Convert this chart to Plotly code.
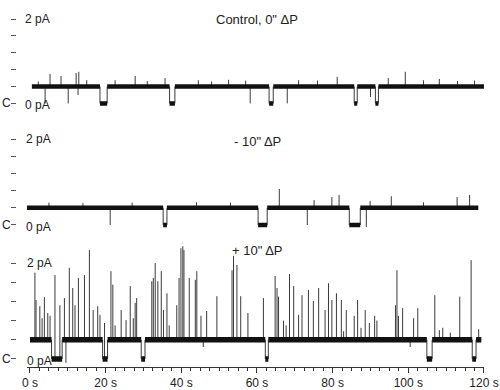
import plotly.graph_objects as go

# ---------------- data (time in s, current in pA) ----------------
BASE = 0.4          # one-channel open level the traces sit on
CLOSED = 0.0        # "C" level

# Panel 1 : Control, 0" dP
C_SPAN = [0.5, 120.0]
C_CL_START = [18.5, 36.9, 63.2, 85.7, 91.3]
C_CL_END = [20.4, 38.3, 64.3, 86.5, 92.1]
C_UP_T = [2.2, 5.3, 8.2, 12.2, 12.9, 15.0, 22.5, 27.8, 31.0, 35.7, 44.5, 48.0,
          52.5, 57.0, 71.0, 76.0, 81.2, 94.7, 99.2, 104.0, 108.2, 113.0, 117.5]
C_UP_H = [0.52, 0.70, 0.65, 0.72, 0.75, 0.55, 0.55, 0.65, 0.53, 0.60, 0.55, 0.52,
          0.56, 0.54, 0.55, 0.54, 0.63, 0.60, 0.75, 0.55, 0.58, 0.53, 0.54]
C_DN_T = [4.0, 10.1, 12.7, 58.2, 68.0, 90.0]
C_DN_H = [0.0, 0.0, 0.2, 0.0, 0.0, 0.15]

# Panel 2 : - 10" dP
M_SPAN = [-0.8, 118.5]
M_CL_START = [35.2, 60.3, 84.4]
M_CL_END = [36.2, 62.7, 87.3]
M_UP_T = [5.0, 14.0, 27.0, 44.0, 53.0, 65.9, 75.1, 79.8, 81.7, 89.9, 95.5,
          104.0, 112.9, 116.2]
M_UP_H = [0.52, 0.51, 0.52, 0.53, 0.52, 0.84, 0.58, 0.65, 0.70, 0.56, 0.67,
          0.53, 0.65, 0.70]
M_DN_T = [21.2, 73.3, 88.9]
M_DN_H = [0.0, 0.0, -0.05]

# Panel 3 : + 10" dP
P_SPAN = [0.0, 119.3]
P_CL_START = [5.7, 19.2, 29.4, 62.2, 104.9, 116.9]
P_CL_END = [8.5, 20.5, 30.4, 63.0, 106.3, 117.9]
P_UP_T = [1.3, 1.6, 2.6, 3.2, 3.8, 4.7, 5.3, 6.6, 7.9, 9.1, 10.4, 11.3, 11.9,
          12.8, 14.4, 15.7, 16.7, 17.9, 18.5, 19.7, 21.4, 21.9, 22.5, 24.1,
          25.4, 26.5, 27.3, 27.8, 28.2, 32.2, 32.6, 33.1, 33.8, 34.7, 35.3,
          36.2, 36.8, 38.8, 39.4, 39.9, 40.4, 40.7, 42.1, 43.7, 44.1, 45.2,
          46.7, 49.4, 53.4, 53.8, 54.7, 55.7, 57.6, 61.7, 64.8, 65.3, 65.7,
          67.0, 67.7, 68.6, 69.7, 71.0, 71.9, 73.6, 74.9, 76.3, 78.0, 78.9,
          79.8, 81.0, 82.3, 82.9, 83.6, 85.7, 86.6, 87.5, 88.6, 89.7, 91.1,
          91.7, 96.6, 97.0, 97.4, 98.5, 101.4, 102.5, 107.0, 108.2, 109.1,
          111.1, 113.6, 116.6, 118.6]
P_UP_H = [1.80, 1.23, 1.10, 0.85, 1.29, 0.96, 0.90, 1.75, 1.12, 1.27, 1.90,
          1.48, 1.12, 1.69, 1.75, 2.27, 1.02, 1.10, 0.92, 0.75, 1.83, 1.55,
          0.70, 1.02, 0.81, 1.52, 0.85, 1.17, 1.27, 1.62, 1.69, 2.00, 1.62,
          1.83, 1.02, 1.37, 0.70, 1.12, 1.69, 2.31, 2.35, 2.27, 1.69, 1.65,
          1.83, 0.90, 1.00, 1.31, 1.85, 2.15, 1.96, 1.31, 0.96, 1.27, 1.73,
          1.48, 1.30, 0.80, 0.70, 1.77, 1.52, 0.92, 1.33, 1.44, 1.21, 1.48,
          1.02, 1.58, 1.23, 1.37, 1.23, 0.58, 1.02, 0.90, 1.23, 0.65, 1.02,
          0.75, 0.90, 0.80, 1.12, 1.85, 0.90, 1.06, 0.85, 1.06, 1.33, 0.60,
          0.65, 0.55, 1.30, 2.06, 0.62]
P_DN_T = [9.5, 45.8, 100.5]
P_DN_H = [-0.08, 0.25, 0.25]

X_TICKS = [0, 20, 40, 60, 80, 100, 120]
X_TICK_TEXT = ["0 s", "20 s", "40 s", "60 s", "80 s", "100 s", "120 s"]
Y_TICKS = [0, 0.4, 0.8, 1.2, 1.6, 2.0]
TITLES = ['Control, 0" \u0394P', '- 10" \u0394P', '+ 10" \u0394P']

# ---------------- build traces ----------------
def levels(span, cs, ce):
    """thick horizontal level segments (open level and closed dwells)"""
    xs, ys = [], []
    t = span[0]
    for s, e in zip(cs, ce):
        xs += [t, s, None]; ys += [BASE, BASE, None]
        xs += [s, e, None]; ys += [CLOSED, CLOSED, None]
        t = e
    xs += [t, span[1]]; ys += [BASE, BASE]
    return xs, ys


def thin(cs, ce, ut, uh, dt, dh):
    xs, ys = [], []
    for s, e in zip(cs, ce):
        xs += [s, s, None, e, e, None]
        ys += [BASE, CLOSED, None, CLOSED, BASE, None]
    for t, h in zip(ut, uh):
        inside = any(s <= t <= e for s, e in zip(cs, ce))
        b = CLOSED if inside else BASE
        xs += [t, t, None]; ys += [b, h, None]
    for t, h in zip(dt, dh):
        xs += [t, t, None]; ys += [BASE, h, None]
    return xs, ys


panels = [
    (C_SPAN, C_CL_START, C_CL_END, C_UP_T, C_UP_H, C_DN_T, C_DN_H, "y", 4.5),
    (M_SPAN, M_CL_START, M_CL_END, M_UP_T, M_UP_H, M_DN_T, M_DN_H, "y2", 4.5),
    (P_SPAN, P_CL_START, P_CL_END, P_UP_T, P_UP_H, P_DN_T, P_DN_H, "y3", 5.5),
]

fig = go.Figure()
for span, cs, ce, ut, uh, dt, dh, ya, w in panels:
    tx, ty = thin(cs, ce, ut, uh, dt, dh)
    fig.add_trace(go.Scatter(x=tx, y=ty, xaxis="x", yaxis=ya, mode="lines",
                             line=dict(color="#3a3a3a", width=1),
                             showlegend=False, hoverinfo="skip"))
    lx, ly = levels(span, cs, ce)
    fig.add_trace(go.Scatter(x=lx, y=ly, xaxis="x", yaxis=ya, mode="lines",
                             line=dict(color="#111111", width=w),
                             showlegend=False, hoverinfo="skip"))

FONT = "Liberation Sans, Arial, sans-serif"
yax = dict(anchor="free", position=0, tickmode="array", tickvals=Y_TICKS,
           ticks="outside", ticklen=5, tickcolor="#555", tickwidth=1,
           showticklabels=False, showgrid=False, zeroline=False,
           showline=False, fixedrange=True)

fig.update_layout(
    width=500, height=390,
    margin=dict(l=16, r=14, t=0, b=23),
    paper_bgcolor="white", plot_bgcolor="white",
    font=dict(family=FONT, size=12, color="#222"),
    xaxis=dict(domain=[0.0234, 0.9957], range=[-0.79, 120], anchor="y3",
               tickmode="array", tickvals=X_TICKS, ticktext=X_TICK_TEXT,
               ticks="outside", ticklen=5, tickcolor="#333", tickwidth=1,
               showline=True, linecolor="#333", linewidth=1,
               showgrid=False, zeroline=False,
               minor=dict(dtick=2.5, tick0=0, ticks="outside", ticklen=3,
                          tickcolor="#333", showgrid=False),
               tickfont=dict(size=12, family=FONT, color="#222")),
    yaxis=dict(domain=[0.687, 0.986], range=[-0.272, 2.331], **yax),
    yaxis2=dict(domain=[0.357, 0.659], range=[-0.256, 2.326], **yax),
    yaxis3=dict(domain=[0.0, 0.346], range=[-0.167, 2.48], **yax),
)

ann = []
title_y = [2.0, 1.95, 2.27]
lab_x = [0.0149, 0.017, 0.019]
for i, ya in enumerate(["y", "y2", "y3"]):
    ann.append(dict(text="2 pA", x=lab_x[i], xref="paper", y=2.0, yref=ya,
                    xanchor="left", yanchor="middle", showarrow=False,
                    font=dict(size=12, family=FONT, color="#222")))
    ann.append(dict(text="0 pA", x=lab_x[i], xref="paper", y=0.0, yref=ya,
                    xanchor="left", yanchor="middle", yshift=-2, showarrow=False,
                    font=dict(size=12, family=FONT, color="#222")))
    ann.append(dict(text="C", x=-0.033, xref="paper", y=0.0, yref=ya,
                    xanchor="left", yanchor="middle", showarrow=False,
                    font=dict(size=12, family=FONT, color="#222")))
    ann.append(dict(text=TITLES[i], x=0.5128, xref="paper", y=title_y[i], yref=ya,
                    xanchor="center", yanchor="middle", showarrow=False,
                    font=dict(size=13, family=FONT, color="#222")))
fig.update_layout(annotations=ann)

fig.write_html("out.html", config={"displayModeBar": False},
               post_script="document.body.style.margin='0';document.body.style.overflow='hidden';")
